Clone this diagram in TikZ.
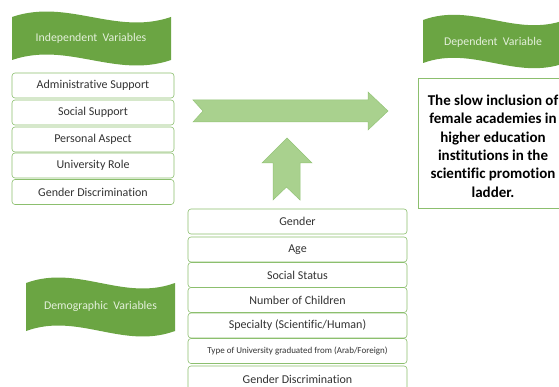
\documentclass[tikz,border=0pt]{standalone}
\usepackage{fontspec}
\setmainfont{Carlito}[Ligatures=NoCommon]
\definecolor{bannergreen}{HTML}{6BA543}
\definecolor{bannertext}{HTML}{E4F0DB}
\definecolor{boxline}{HTML}{8CBF6E}
\definecolor{boxtext}{HTML}{333333}
\definecolor{arrowfill}{HTML}{A9D18E}
\definecolor{arrowline}{HTML}{93C477}
\tikzset{
  varbox/.style={draw=boxline, line width=0.6pt, rounded corners=3pt, fill=white,
    text=boxtext, font=\fontsize{12}{14}\selectfont, inner sep=0pt},
  indbox/.style={varbox, minimum width=162pt, minimum height=25pt},
  dembox/.style={varbox, minimum width=219pt, minimum height=25pt},
  bannerlabel/.style={text=bannertext, font=\fontsize{11.8}{13}\selectfont, inner sep=0pt},
  blockarrow/.style={fill=arrowfill, draw=arrowline, line width=0.5pt},
}
\newcommand{\wavebanner}[5]{% x0 y0 w h c
  \fill[bannergreen] (#1,#2) .. controls ({#1+0.35*#3},{#2-#5}) and ({#1+0.65*#3},{#2+#5}) .. ({#1+#3},#2)
    -- ({#1+#3},{#2+#4}) .. controls ({#1+0.65*#3},{#2+#4+#5}) and ({#1+0.35*#3},{#2+#4-#5}) .. (#1,{#2+#4}) -- cycle;}
\begin{document}
\begin{tikzpicture}[x=1pt,y=-1pt]
\useasboundingbox (0,0) rectangle (559,387);
\clip (0,0) rectangle (559,387);
\fill[white] (0,0) rectangle (559,387);
% banners
\wavebanner{12}{17}{159}{43}{19}
\node[bannerlabel] (indlab) at (91,38.5) {Independent\ \ Variables};
\wavebanner{423}{20}{142}{43}{18}
\node[bannerlabel] (deplab) at (493,42) {Dependent\ \ Variable};
\wavebanner{26}{283}{149}{48}{19}
\node[bannerlabel] (demlab) at (100.5,306) {Demographic\ \ Variables};
% independent boxes
\node[indbox] (i1) at (93,85.5) {Administrative Support};
\node[indbox] (i2) at (93,112.5) {Social Support};
\node[indbox] (i3) at (93,139.5) {Personal Aspect};
\node[indbox] (i4) at (93,165.5) {University Role};
\node[indbox] (i5) at (93,192) {Gender Discrimination};
% dependent box
\node[draw=boxline, line width=0.6pt, fill=white, minimum width=150pt, minimum height=130pt, inner sep=0pt] (dep) at (493,143) {};
\node[align=center, font=\bfseries\fontsize{15}{18.4}\selectfont, text=black, inner sep=0pt] (deptext) at (493,146)
  {The slow inclusion of\\female academies in\\higher education\\institutions in the\\scientific promotion\\ladder.};
% arrows
\draw[blockarrow] (193,100) -- (368,100) -- (368,92) -- (388,111) -- (368,130) -- (368,122) -- (193,122) -- (203,111) -- cycle;
\draw[blockarrow] (287,138) -- (312,163) -- (300,163) -- (300,200) -- (286.5,187) -- (273,200) -- (273,163) -- (262,163) -- cycle;
% demographic boxes
\node[dembox] (d1) at (297.5,221.5) {Gender};
\node[dembox] (d2) at (297.5,249.5) {Age};
\node[dembox] (d3) at (297.5,275) {Social Status};
\node[dembox] (d4) at (297.5,300) {Number of Children};
\node[dembox] (d5) at (297.5,325.5) {Specialty (Scientific/Human)};
\node[dembox, font=\fontsize{9}{10}\selectfont] (d6) at (297.5,351) {Type of University graduated from (Arab/Foreign)};
\node[dembox, minimum height=26pt] (d7) at (297.5,379) {Gender Discrimination};
\end{tikzpicture}
\end{document}
